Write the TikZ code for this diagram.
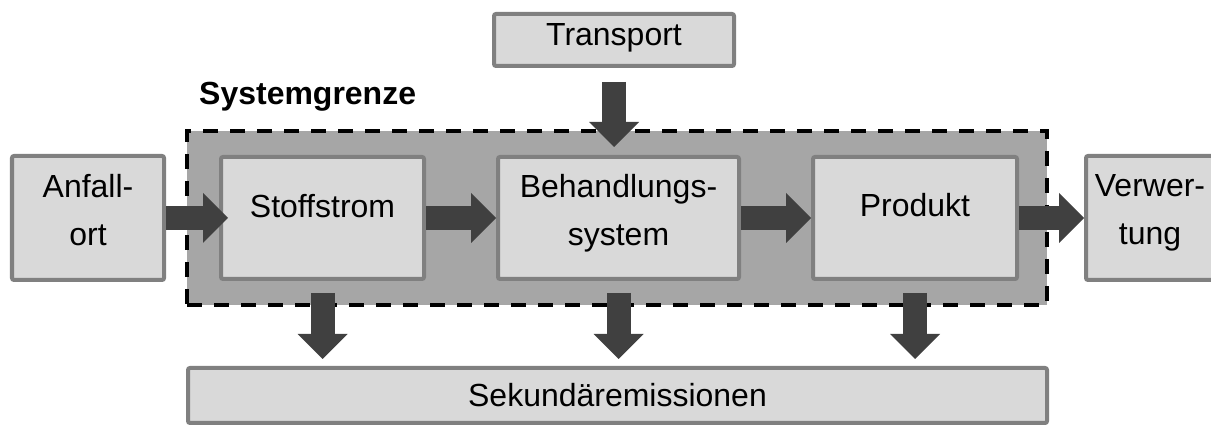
\documentclass[tikz,border=0pt]{standalone}
\usepackage{fontspec}
\setmainfont{Liberation Sans}
\usepackage{xcolor}
\usepackage{tikz}
\usetikzlibrary{arrows.meta}
\definecolor{blkfill}{HTML}{D9D9D9}
\definecolor{blkdraw}{HTML}{808080}
\definecolor{sysfill}{HTML}{A6A6A6}
\definecolor{flowcol}{HTML}{404040}
\tikzstyle{blk}=[rectangle, draw=blkdraw, fill=blkfill,% light boxes with grey frame
line width=0.08cm, rounded corners=0.04cm, inner sep=0pt]
\tikzstyle{sysgr}=[rectangle, draw=black, fill=sysfill, line width=0.08cm,
dash pattern=on 0.3cm off 0.24cm, inner sep=0pt]
\tikzstyle{txt}=[align=center, font=\fontsize{18.2pt}{27.2pt}\selectfont]
\tikzstyle{flow}=[draw=flowcol, line width=0.48cm,% fat block arrows
-{Triangle[width=1cm,length=0.5cm,line width=0pt]}]

\begin{document}
\begin{tikzpicture}
\useasboundingbox (0,0) rectangle (24.22,8.52);
\node[sysgr, minimum width=17.2cm, minimum height=3.48cm] (sys) at (12.34, 4.16) {};
\node[txt, font=\bfseries\fontsize{18.2pt}{27.2pt}\selectfont, anchor=base west] (sysl) at (3.86, 6.42) {Systemgrenze};
\node[blk, minimum width=3.04cm, minimum height=2.48cm, label={[txt, yshift=0.16cm]center:Anfall-\\ort}] (anfall) at (1.76, 4.16) {};
\node[blk, minimum width=4.06cm, minimum height=2.44cm, label={[txt, yshift=0.24cm]center:Stoffstrom}] (stoff) at (6.45, 4.16) {};
\node[blk, minimum width=4.82cm, minimum height=2.44cm, label={[txt, yshift=0.10cm]center:Behandlungs-\\system}] (behand) at (12.37, 4.16) {};
\node[blk, minimum width=4.08cm, minimum height=2.44cm, label={[txt, yshift=0.26cm]center:Produkt}] (prod) at (18.30, 4.16) {};
\node[blk, minimum width=2.56cm, minimum height=2.48cm, label={[txt, yshift=0.11cm]center:Verwer-\\tung}] (verw) at (23.00, 4.16) {};
\node[blk, minimum width=4.80cm, minimum height=1.04cm, label={[txt, yshift=0.05cm]center:Transport}] (trans) at (12.28, 7.72) {};
\node[blk, minimum width=17.18cm, minimum height=1.10cm, label={[txt]center:Sekundäremissionen}] (sek) at (12.35, 0.61) {};
\draw[flow, shorten >=-0.18cm] (anfall) -- (stoff);
\draw[flow] (stoff) -- (behand);
\draw[flow] (behand) -- (prod);
\draw[flow] (prod) -- (verw);
\draw[flow, shorten <=0.28cm, shorten >=0.16cm] (trans.south) -- (trans.south |- behand.north);
\draw[flow, shorten <=0.24cm, shorten >=0.14cm] (stoff.south) -- (stoff.south |- sek.north);
\draw[flow, shorten <=0.24cm, shorten >=0.14cm] (behand.south) -- (behand.south |- sek.north);
\draw[flow, shorten <=0.24cm, shorten >=0.14cm] (prod.south) -- (prod.south |- sek.north);
\end{tikzpicture}
\end{document}
